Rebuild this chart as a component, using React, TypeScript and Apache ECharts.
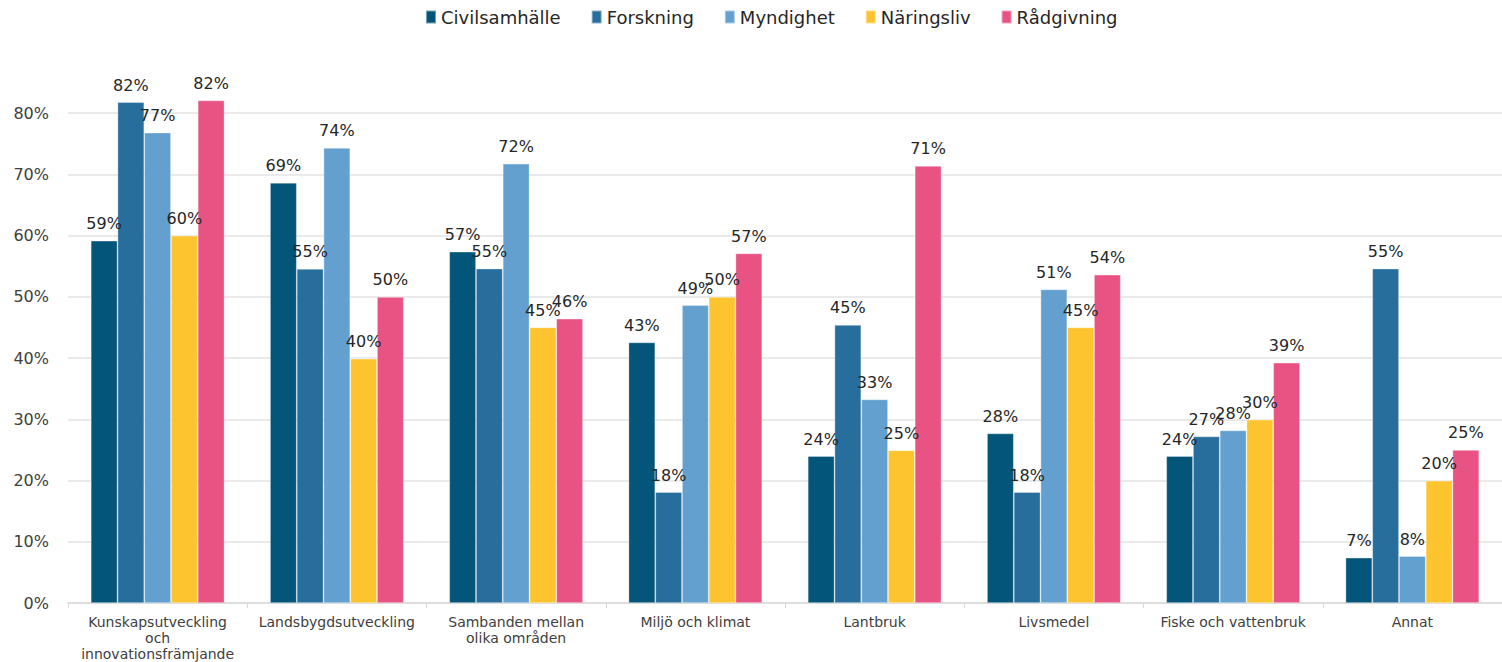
import React, { useEffect, useRef } from "react";
import * as echarts from "echarts";

const categories = [
  "Kunskapsutveckling\noch\ninnovationsfrämjande",
  "Landsbygdsutveckling",
  "Sambanden mellan\nolika områden",
  "Miljö och klimat",
  "Lantbruk",
  "Livsmedel",
  "Fiske och vattenbruk",
  "Annat",
];

const seriesNames = ["Civilsamhälle", "Forskning", "Myndighet", "Näringsliv", "Rådgivning"];
const seriesColors = ["#03557a", "#286e9c", "#63a0cf", "#fdc42f", "#e85384"];

const civilsamhalle = [0.5915, 0.686, 0.5736, 0.4255, 0.24, 0.2769, 0.24, 0.074];
const forskning = [0.8177, 0.5455, 0.546, 0.1812, 0.4539, 0.1812, 0.272, 0.546];
const myndighet = [0.768, 0.743, 0.7172, 0.4865, 0.3325, 0.512, 0.2818, 0.0767];
const naringsliv = [0.5997, 0.3989, 0.45, 0.4996, 0.2492, 0.45, 0.2993, 0.1997];
const radgivning = [0.8206, 0.4996, 0.4642, 0.5708, 0.7135, 0.536, 0.3923, 0.2498];

const seriesData = [civilsamhalle, forskning, myndighet, naringsliv, radgivning];

const yTicks = [0, 0.8, 0.1];

const FONT = "'DejaVu Sans', sans-serif";

export default function App() {
  const ref = useRef<HTMLDivElement>(null);
  useEffect(() => {
    document.body.style.margin = "0";
    if (!ref.current) return;
    const chart = echarts.init(ref.current, undefined, { renderer: "svg" });
    chart.setOption({
      animation: false,
      textStyle: { fontFamily: FONT },
      legend: {
        top: 3,
        left: 420,
        itemWidth: 10,
        itemHeight: 13,
        itemGap: 30,
        icon: "rect",
        textStyle: { fontSize: 18, color: "#262626", fontFamily: FONT },
        data: seriesNames,
      },
      grid: { left: 68, right: -4, top: 113, bottom: 59, containLabel: false },
      xAxis: {
        type: "category",
        data: categories,
        axisLine: { lineStyle: { color: "#d9d9d9", width: 1.5 } },
        axisTick: { show: true, alignWithLabel: false, length: 5, lineStyle: { color: "#d9d9d9" } },
        axisLabel: {
          interval: 0,
          margin: 11,
          fontSize: 14,
          lineHeight: 16,
          color: "#404040",
          fontFamily: FONT,
        },
      },
      yAxis: {
        type: "value",
        min: yTicks[0],
        max: yTicks[1],
        interval: yTicks[2],
        axisLine: { show: false },
        axisTick: { show: false },
        splitLine: { lineStyle: { color: "#e3e3e3", width: 1.5 } },
        axisLabel: {
          margin: 19,
          fontSize: 16,
          color: "#404040",
          fontFamily: FONT,
          formatter: (v: number) => Math.round(v * 100) + "%",
        },
      },
      series: seriesNames.map((name, i) => ({
        name,
        type: "bar",
        data: seriesData[i],
        clip: false,
        barGap: "0%",
        barCategoryGap: "25.4%",
        itemStyle: {
          color: seriesColors[i],
          borderColor: "rgba(255,255,255,0.45)",
          borderWidth: 0.75,
        },
        label: {
          show: true,
          position: "top",
          distance: 9,
          fontSize: 16,
          color: "#262626",
          fontFamily: FONT,
          formatter: (p: any) => Math.round(p.value * 100) + "%",
        },
      })),
    });
    return () => chart.dispose();
  }, []);
  return <div ref={ref} style={{ width: 1502, height: 662 }} />;
}
